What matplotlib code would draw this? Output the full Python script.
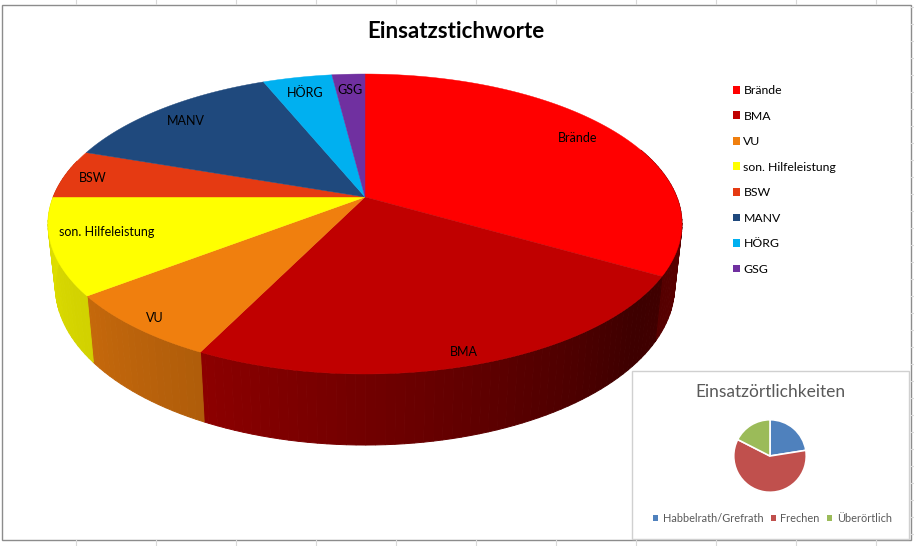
import numpy as np
import matplotlib
matplotlib.use('Agg')
import matplotlib.pyplot as plt
from matplotlib.patches import Patch, Rectangle

plt.rcParams['font.family'] = ['Lato', 'DejaVu Sans']

# Data
categories = ['Brände', 'BMA', 'VU', 'son. Hilfeleistung', 'BSW', 'MANV', 'HÖRG', 'GSG']
shares = [33.3, 24.0, 7.3, 10.4, 5.25, 13.55, 4.2, 2.0]
colors = ['#FF0000', '#C00000', '#F07F0E', '#FFFF00', '#E53A12', '#1F497D', '#00B0F0', '#7030A0']

places = ['Habbelrath/Grefrath', 'Frechen', 'Überörtlich']
place_shares = [22.5, 60.0, 17.5]
place_colors = ['#4F81BD', '#C0504D', '#9BBB59']

# perspective of the big pie, in pixels
cx, cy = 365.0, 197.0
persp_a, persp_c, persp_d = 109.68, -0.18, 311.8


def top_rim(deg):
    a = np.radians(deg)
    u, v = np.sin(a), -np.cos(a)
    w = 1 + persp_c * v
    return cx + persp_d * u / w, (persp_a * v + cy) / w


def low_rim(deg):
    x, y = top_rim(deg)
    return cx + (x - cx) * 0.977, y * 1.06 + 48.6


def side_shade(deg):
    # side wall gets darker towards the right
    return np.interp(deg, [90, 130, 206, 232, 270], [0.37, 0.32, 0.73, 0.82, 0.88])


fig = plt.figure(figsize=(9.14, 5.46), dpi=100)
ax = fig.add_axes([0, 0, 1, 1])
ax.set_xlim(0, 914)
ax.set_ylim(546, 0)
ax.axis('off')

# sheet grid peeking out around the chart
for x in np.arange(76, 914, 80):
    ax.plot([x, x], [0, 4], color='#D9D9D9', lw=0.8)
    ax.plot([x, x], [540, 546], color='#D9D9D9', lw=0.8)
for y in np.arange(7, 546, 17):
    ax.plot([911, 914], [y, y], color='#D9D9D9', lw=0.8)
ax.add_patch(Rectangle((1.5, 4.5), 909.5, 535, fc='white', ec='#8C8C8C', lw=1))

# side wall and top face
edges = np.cumsum([0] + shares) / sum(shares) * 360
for i, col in enumerate(colors):
    start, end = edges[i], edges[i + 1]
    rgb = np.array(matplotlib.colors.to_rgb(col))
    vis_start, vis_end = max(start, 70), min(end, 285)
    if vis_end > vis_start:
        steps = np.arange(vis_start, vis_end, 1.5).tolist() + [vis_end]
        for a0, a1 in zip(steps[:-1], steps[1:]):
            xa, ya = top_rim(np.array([a0, a1]))
            xb, yb = low_rim(np.array([a1, a0]))
            shade = tuple(rgb * side_shade((a0 + a1) / 2))
            ax.fill(np.r_[xa, xb], np.r_[ya, yb], fc=shade, ec=shade, lw=0.7, zorder=2)
for i, col in enumerate(colors):
    ang = np.linspace(edges[i], edges[i + 1], 80)
    xs, ys = top_rim(ang)
    ax.fill(np.r_[cx, xs], np.r_[cy, ys], color=col, lw=0.3, zorder=3)

label_pos = {'Brände': (578, 138), 'BMA': (464, 352), 'VU': (155, 318),
             'son. Hilfeleistung': (107, 232), 'BSW': (93, 178), 'MANV': (186, 121),
             'HÖRG': (305, 93), 'GSG': (350, 90)}
for name in categories:
    ax.text(*label_pos[name], name, ha='center', va='center', fontsize=9, color='black', zorder=5)

ax.text(455.5, 31, 'Einsatzstichworte', ha='center', va='center', fontsize=16,
        fontweight='bold', color='black', zorder=5)

handles = [Patch(fc=c, ec='none') for c in colors]
leg1 = ax.legend(handles, categories, loc='upper left', bbox_to_anchor=(733 / 914, 1 - 85 / 546),
                 frameon=False, fontsize=8.8, handlelength=0.6, handleheight=0.6,
                 handletextpad=0.25, labelspacing=1.19, borderpad=0, borderaxespad=0)
leg1.set_zorder(9)
ax.add_artist(leg1)

# small chart in the corner
ax.add_patch(Rectangle((631.5, 370.5), 277.5, 168, fc='white', ec='#D0D0D0', lw=1, zorder=6))
ax.text(770, 392, 'Einsatzörtlichkeiten', ha='center', va='center', fontsize=12.5,
        color='#595959', zorder=7)

inset = fig.add_axes([(770 - 37) / 914, 1 - (456 + 37) / 546, 74 / 914, 74 / 546], zorder=8)
inset.pie(place_shares, colors=place_colors, startangle=90, counterclock=False, radius=0.98,
          wedgeprops={'edgecolor': 'white', 'linewidth': 1.2})
inset.set_xlim(-1, 1)
inset.set_ylim(-1, 1)

handles2 = [Patch(fc=c, ec='none') for c in place_colors]
leg2 = ax.legend(handles2, places, loc='center', bbox_to_anchor=(772.5 / 914, 1 - 518.5 / 546), ncol=3,
                 frameon=False, fontsize=7.9, labelcolor='#595959', handlelength=0.45, handleheight=0.45,
                 handletextpad=0.4, columnspacing=0.7, borderpad=0, borderaxespad=0)
leg2.set_zorder(9)

fig.savefig('out.png', dpi=100, facecolor='white')
